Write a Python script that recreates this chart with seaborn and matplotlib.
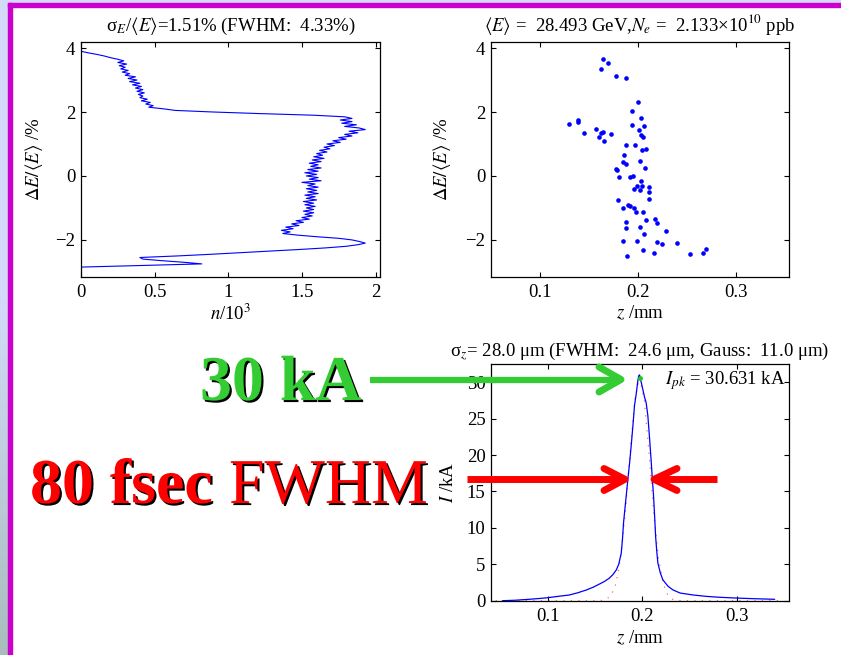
import numpy as np
import pandas as pd
import matplotlib
matplotlib.use("Agg")
import matplotlib.pyplot as plt
import matplotlib.patheffects as pe
from matplotlib.lines import Line2D
from matplotlib.patches import Rectangle
import seaborn as sns

# ---------------- data ----------------
# energy histogram (top-left): bin centres dE (%) from 3.90 down to -2.85, counts n/10^3
dE_top, dE_step = 3.90, 0.05
n_counts = [
    0.00, 0.05, 0.11, 0.16, 0.20, 0.25, 0.29, 0.25, 0.31, 0.26,
    0.30, 0.27, 0.32, 0.28, 0.33, 0.30, 0.37, 0.32, 0.38, 0.33,
    0.40, 0.35, 0.41, 0.37, 0.42, 0.38, 0.43, 0.39, 0.42, 0.40,
    0.45, 0.41, 0.47, 0.44, 0.49, 0.46, 0.56, 0.64,
    0.90, 1.22, 1.58, 1.79, 1.84, 1.76, 1.84, 1.77, 1.87, 1.79,
    1.89, 1.93, 1.82, 1.88, 1.79, 1.84, 1.75, 1.80, 1.71, 1.76,
    1.67, 1.72, 1.65, 1.69, 1.62, 1.67, 1.60, 1.64, 1.58, 1.65,
    1.57, 1.63, 1.55, 1.61, 1.56, 1.63, 1.54, 1.61, 1.52, 1.60,
    1.53, 1.61, 1.55, 1.63, 1.50, 1.59, 1.54, 1.61, 1.53, 1.60,
    1.54, 1.61, 1.52, 1.59, 1.53, 1.60, 1.51, 1.58, 1.52, 1.59,
    1.53, 1.58, 1.51, 1.58, 1.52, 1.57, 1.50, 1.55, 1.46, 1.51,
    1.43, 1.48, 1.39, 1.44, 1.36, 1.42, 1.37, 1.47, 1.60,
    1.75, 1.84, 1.89, 1.93, 1.88, 1.80, 1.66, 1.48, 1.28, 1.08,
    0.88, 0.66, 0.40, 0.42, 0.55, 0.70, 0.82, 0.42, 0.00,
]
dE_bins = np.round(dE_top - dE_step * np.arange(len(n_counts)), 2)

# longitudinal phase space (top-right)
z_pts = [0.1646, 0.1694, 0.1626, 0.1780, 0.1878, 0.2003, 0.1942, 0.2034, 0.1296, 0.1385,
         0.1385, 0.1452, 0.1575, 0.1626, 0.1643, 0.1605, 0.1653, 0.1724, 0.1942, 0.2007,
         0.2064, 0.2034, 0.2051, 0.1878, 0.1966, 0.2044, 0.2082, 0.1861, 0.1847, 0.1874,
         0.2020, 0.2068, 0.1779, 0.1783, 0.1806, 0.1915, 0.1952, 0.1956, 0.1993, 0.2020,
         0.2037, 0.2031, 0.2112, 0.2115, 0.2112, 0.1796, 0.1847, 0.1895, 0.1915, 0.1959,
         0.1983, 0.2054, 0.1878, 0.1878, 0.2017, 0.2078, 0.2170, 0.2191, 0.2064, 0.2289,
         0.1850, 0.1990, 0.2194, 0.2242, 0.2398, 0.2048, 0.2160, 0.1891, 0.2531, 0.2663,
         0.2691]
dE_pts = [3.66, 3.52, 3.36, 3.13, 3.06, 2.32, 2.04, 1.80, 1.61, 1.74,
          1.68, 1.33, 1.48, 1.33, 1.36, 1.21, 1.10, 1.31, 1.58, 1.44,
          1.56, 1.29, 1.21, 0.96, 0.96, 0.80, 0.85, 0.67, 0.45, 0.375,
          0.48, 0.26, 0.21, 0.19, -0.02, -0.04, 0.01, -0.40, -0.30, -0.43,
          -0.30, -0.15, -0.33, -0.49, -0.71, -0.74, -1.01, -0.90, -0.93, -1.00,
          -1.125, -1.125, -1.43, -1.62, -1.60, -1.375, -1.34, -1.46, -1.82, -1.71,
          -2.02, -2.04, -2.08, -2.125, -2.11, -2.32, -2.40, -2.49, -2.43, -2.40,
          -2.28]

# current profile (bottom-right)
z_prof = [0.052, 0.065, 0.080, 0.090, 0.100, 0.110, 0.123, 0.132, 0.141, 0.148,
          0.155, 0.160, 0.165, 0.169, 0.1725, 0.175, 0.1777, 0.179, 0.1801, 0.182,
          0.1847, 0.1865, 0.1882, 0.190, 0.1917, 0.1935, 0.1952, 0.1962, 0.1971, 0.1980,
          0.1988, 0.2005, 0.2023, 0.2040, 0.2058, 0.2075, 0.2094, 0.2105, 0.2118, 0.2130,
          0.2140, 0.2152, 0.2164, 0.219, 0.2217, 0.227, 0.2323, 0.240, 0.2534, 0.267,
          0.2817, 0.300, 0.3169, 0.330, 0.3399]
I_prof = [0.0, 0.06, 0.19, 0.29, 0.41, 0.58, 0.79, 1.10, 1.48, 1.85,
          2.31, 2.65, 3.09, 3.60, 4.24, 5.0, 6.55, 8.5, 10.7, 13.2,
          16.7, 18.9, 21.3, 24.0, 26.8, 28.4, 30.2, 30.9, 31.0, 30.3,
          30.0, 29.0, 27.95, 27.2, 25.4, 22.5, 19.0, 16.8, 14.4, 11.5,
          8.84, 6.8, 5.17, 3.8, 2.86, 2.0, 1.48, 1.05, 0.79, 0.60,
          0.47, 0.36, 0.28, 0.23, 0.19]
z_gauss = [0.045, 0.150, 0.157, 0.162, 0.167, 0.172, 0.177, 0.182, 0.187, 0.192, 0.197,
           0.202, 0.207, 0.212, 0.217, 0.222, 0.227, 0.232, 0.237, 0.245, 0.345]
I_gauss = [0.0, 0.0, 0.04, 0.19, 0.74, 2.3, 5.9, 12.1, 20.3, 27.6, 30.6,
           27.6, 20.3, 12.1, 5.9, 2.3, 0.74, 0.19, 0.04, 0.0, 0.0]
z_peak, I_peak = [0.197], [30.631]

df_hist = pd.DataFrame({"n": n_counts, "dE": dE_bins})
df_pts = pd.DataFrame({"z": z_pts, "dE": dE_pts})
df_prof = pd.DataFrame({"z": z_prof, "I": I_prof})
df_gauss = pd.DataFrame({"z": z_gauss, "I": I_gauss})

# ---------------- style ----------------
FS = 13.5
sns.set_theme(style="ticks")
plt.rcParams.update({
    "font.family": ["Liberation Serif", "DejaVu Serif"],
    "mathtext.fontset": "stix",
    "font.size": FS,
    "axes.labelsize": FS, "axes.titlesize": FS,
    "xtick.labelsize": FS, "ytick.labelsize": FS,
    "axes.linewidth": 0.9, "axes.edgecolor": "black",
    "xtick.direction": "in", "ytick.direction": "in",
    "xtick.top": True, "ytick.right": True,
    "xtick.major.size": 3.5, "ytick.major.size": 3.5,
    "xtick.major.width": 0.8, "ytick.major.width": 0.8,
    "xtick.major.pad": 5, "ytick.major.pad": 4,
    "xtick.color": "black", "ytick.color": "black",
    "text.color": "black", "axes.labelcolor": "black",
})

W, H = 841, 655
fig = plt.figure(figsize=(W / 100, H / 100), dpi=100)
fig.patch.set_facecolor("white")

def fx(x): return x / W
def fy(y): return 1 - y / H

# slide decoration
grad_ax = fig.add_axes([0, 0, 8 / W, 1])
top_c = np.array([0.83, 0.86, 0.98]); bot_c = np.array([0.66, 0.74, 0.74])
t = np.clip((np.linspace(0, 1, 200) - 0.45) / 0.55, 0, 1)[:, None]
grad = (top_c * (1 - t) + bot_c * t)[:, None, :]
grad_ax.imshow(grad, aspect="auto", extent=[0, 1, 0, 1])
grad_ax.set_axis_off()
fig.patches.append(Rectangle((0, fy(3)), 1, 3 / H, transform=fig.transFigure,
                             color=(0.83, 0.86, 0.98), zorder=5))
fig.patches.append(Rectangle((fx(8), fy(7)), 1, 4 / H, transform=fig.transFigure,
                             color="#cc00cc", zorder=6))
fig.patches.append(Rectangle((fx(8), 0), 4.3 / W, fy(3), transform=fig.transFigure,
                             color="#cc00cc", zorder=6))

blue = (0, 0, 1)

# ---- top-left: energy spectrum ----
ax1 = fig.add_axes([fx(81), fy(277), 299 / W, 235 / H])
sns.lineplot(data=df_hist, x="n", y="dE", sort=False, estimator=None,
             color=blue, linewidth=0.8, ax=ax1)
ax1.set_xlim(0, 2.03)
ax1.set_ylim(-3.16, 4.19)
ax1.set_xticks([0, 0.5, 1, 1.5, 2])
ax1.set_xticklabels(["0", "0.5", "1", "1.5", "2"])
ax1.set_yticks([-2, 0, 2, 4])
ax1.set_xlabel(r"$n$/10$^3$")
ax1.set_ylabel(r"$\Delta E/\langle E\rangle$ /%")
ax1.set_title(r"σ$_E$/$\langle E\rangle$=1.51% (FWHM:  4.33%)", pad=8)

# ---- top-right: phase space ----
ax2 = fig.add_axes([fx(491), fy(277), 298 / W, 235 / H])
sns.scatterplot(data=df_pts, x="z", y="dE", color=blue, s=11, linewidth=0, ax=ax2)
ax2.set_xlim(0.05, 0.354)
ax2.set_ylim(-3.16, 4.19)
ax2.set_xticks([0.1, 0.2, 0.3])
ax2.set_yticks([-2, 0, 2, 4])
ax2.set_xlabel(r"$z$ /mm")
ax2.set_ylabel(r"$\Delta E/\langle E\rangle$ /%")
ax2.set_title(r"$\langle E\rangle$ =  28.493 GeV,$N_e$ =  2.133×10$^{10}$ ppb", pad=8)

# ---- bottom-right: current profile ----
ax3 = fig.add_axes([fx(491), fy(600.7), 298 / W, 236.7 / H])
sns.lineplot(data=df_gauss, x="z", y="I", sort=False, estimator=None, color="red",
             linewidth=0.9, alpha=0.6, ax=ax3, linestyle=(0, (1, 5)))
sns.lineplot(data=df_prof, x="z", y="I", sort=False, estimator=None,
             color=blue, linewidth=0.9, ax=ax3)
ax3.plot(z_peak, I_peak, "o", color=(0.1, 0.8, 0.1), ms=2.5, zorder=5)
ax3.set_xlim(0.04, 0.355)
ax3.set_ylim(0, 32.5)
ax3.set_xticks([0.1, 0.2, 0.3])
ax3.set_yticks([0, 5, 10, 15, 20, 25, 30])
ax3.set_xlabel(r"$z$ /mm")
ax3.set_ylabel(r"$I$ /kA")
ax3.set_title(r"σ$_z$= 28.0 μm (FWHM:  24.6 μm, Gauss:  11.0 μm)", pad=6)
ax3.text(0.99, 0.932, r"$I_{pk}$ = 30.631 kA", transform=ax3.transAxes,
         ha="right", va="center", fontsize=FS)

for ax in (ax1, ax2, ax3):
    ax.set_facecolor("white")
    for s in ax.spines.values():
        s.set_visible(True)
        s.set_color("black")
ax1.yaxis.set_label_coords(-0.12, 0.5)
ax2.yaxis.set_label_coords(-0.128, 0.5)
ax3.yaxis.set_label_coords(-0.115, 0.5)
ax1.xaxis.set_label_coords(0.5, -0.115)
ax2.xaxis.set_label_coords(0.5, -0.115)
ax3.xaxis.set_label_coords(0.5, -0.12)

# ---- annotations: big labels and arrows ----
shadow = [pe.SimplePatchShadow(offset=(1.5, -1.5), shadow_rgbFace="black", alpha=1.0),
          pe.Normal()]
green = "#33cc33"
fig.text(fx(200), fy(400), "30 kA", fontsize=46, fontweight="bold", color=green,
         va="baseline", ha="left", path_effects=shadow)
fig.text(fx(30), fy(503), "80 fsec", fontsize=46, fontweight="bold", color="red",
         va="baseline", ha="left", path_effects=shadow)
fig.text(fx(229), fy(503), "FWHM", fontsize=46, fontweight="normal", color="red",
         va="baseline", ha="left", path_effects=shadow)

def seg(xs, ys, color, lw, cap="round"):
    fig.add_artist(Line2D([fx(x) for x in xs], [fy(y) for y in ys],
                          transform=fig.transFigure, color=color, linewidth=lw,
                          solid_capstyle=cap, solid_joinstyle="round", zorder=4))

# green arrow
seg([370, 620], [379.5, 379.5], green, 4.5, cap="butt")
seg([599, 621, 599], [367, 379.5, 392], green, 5)
# red arrows
seg([467, 622], [479.3, 479.3], "red", 5, cap="butt")
seg([604, 625, 604], [468.5, 479.3, 490.5], "red", 5)
seg([716.7, 656], [479.3, 479.3], "red", 5, cap="butt")
seg([677, 654, 677], [468.5, 479.3, 490.5], "red", 5)

fig.savefig("out.png", dpi=100, facecolor="white")
